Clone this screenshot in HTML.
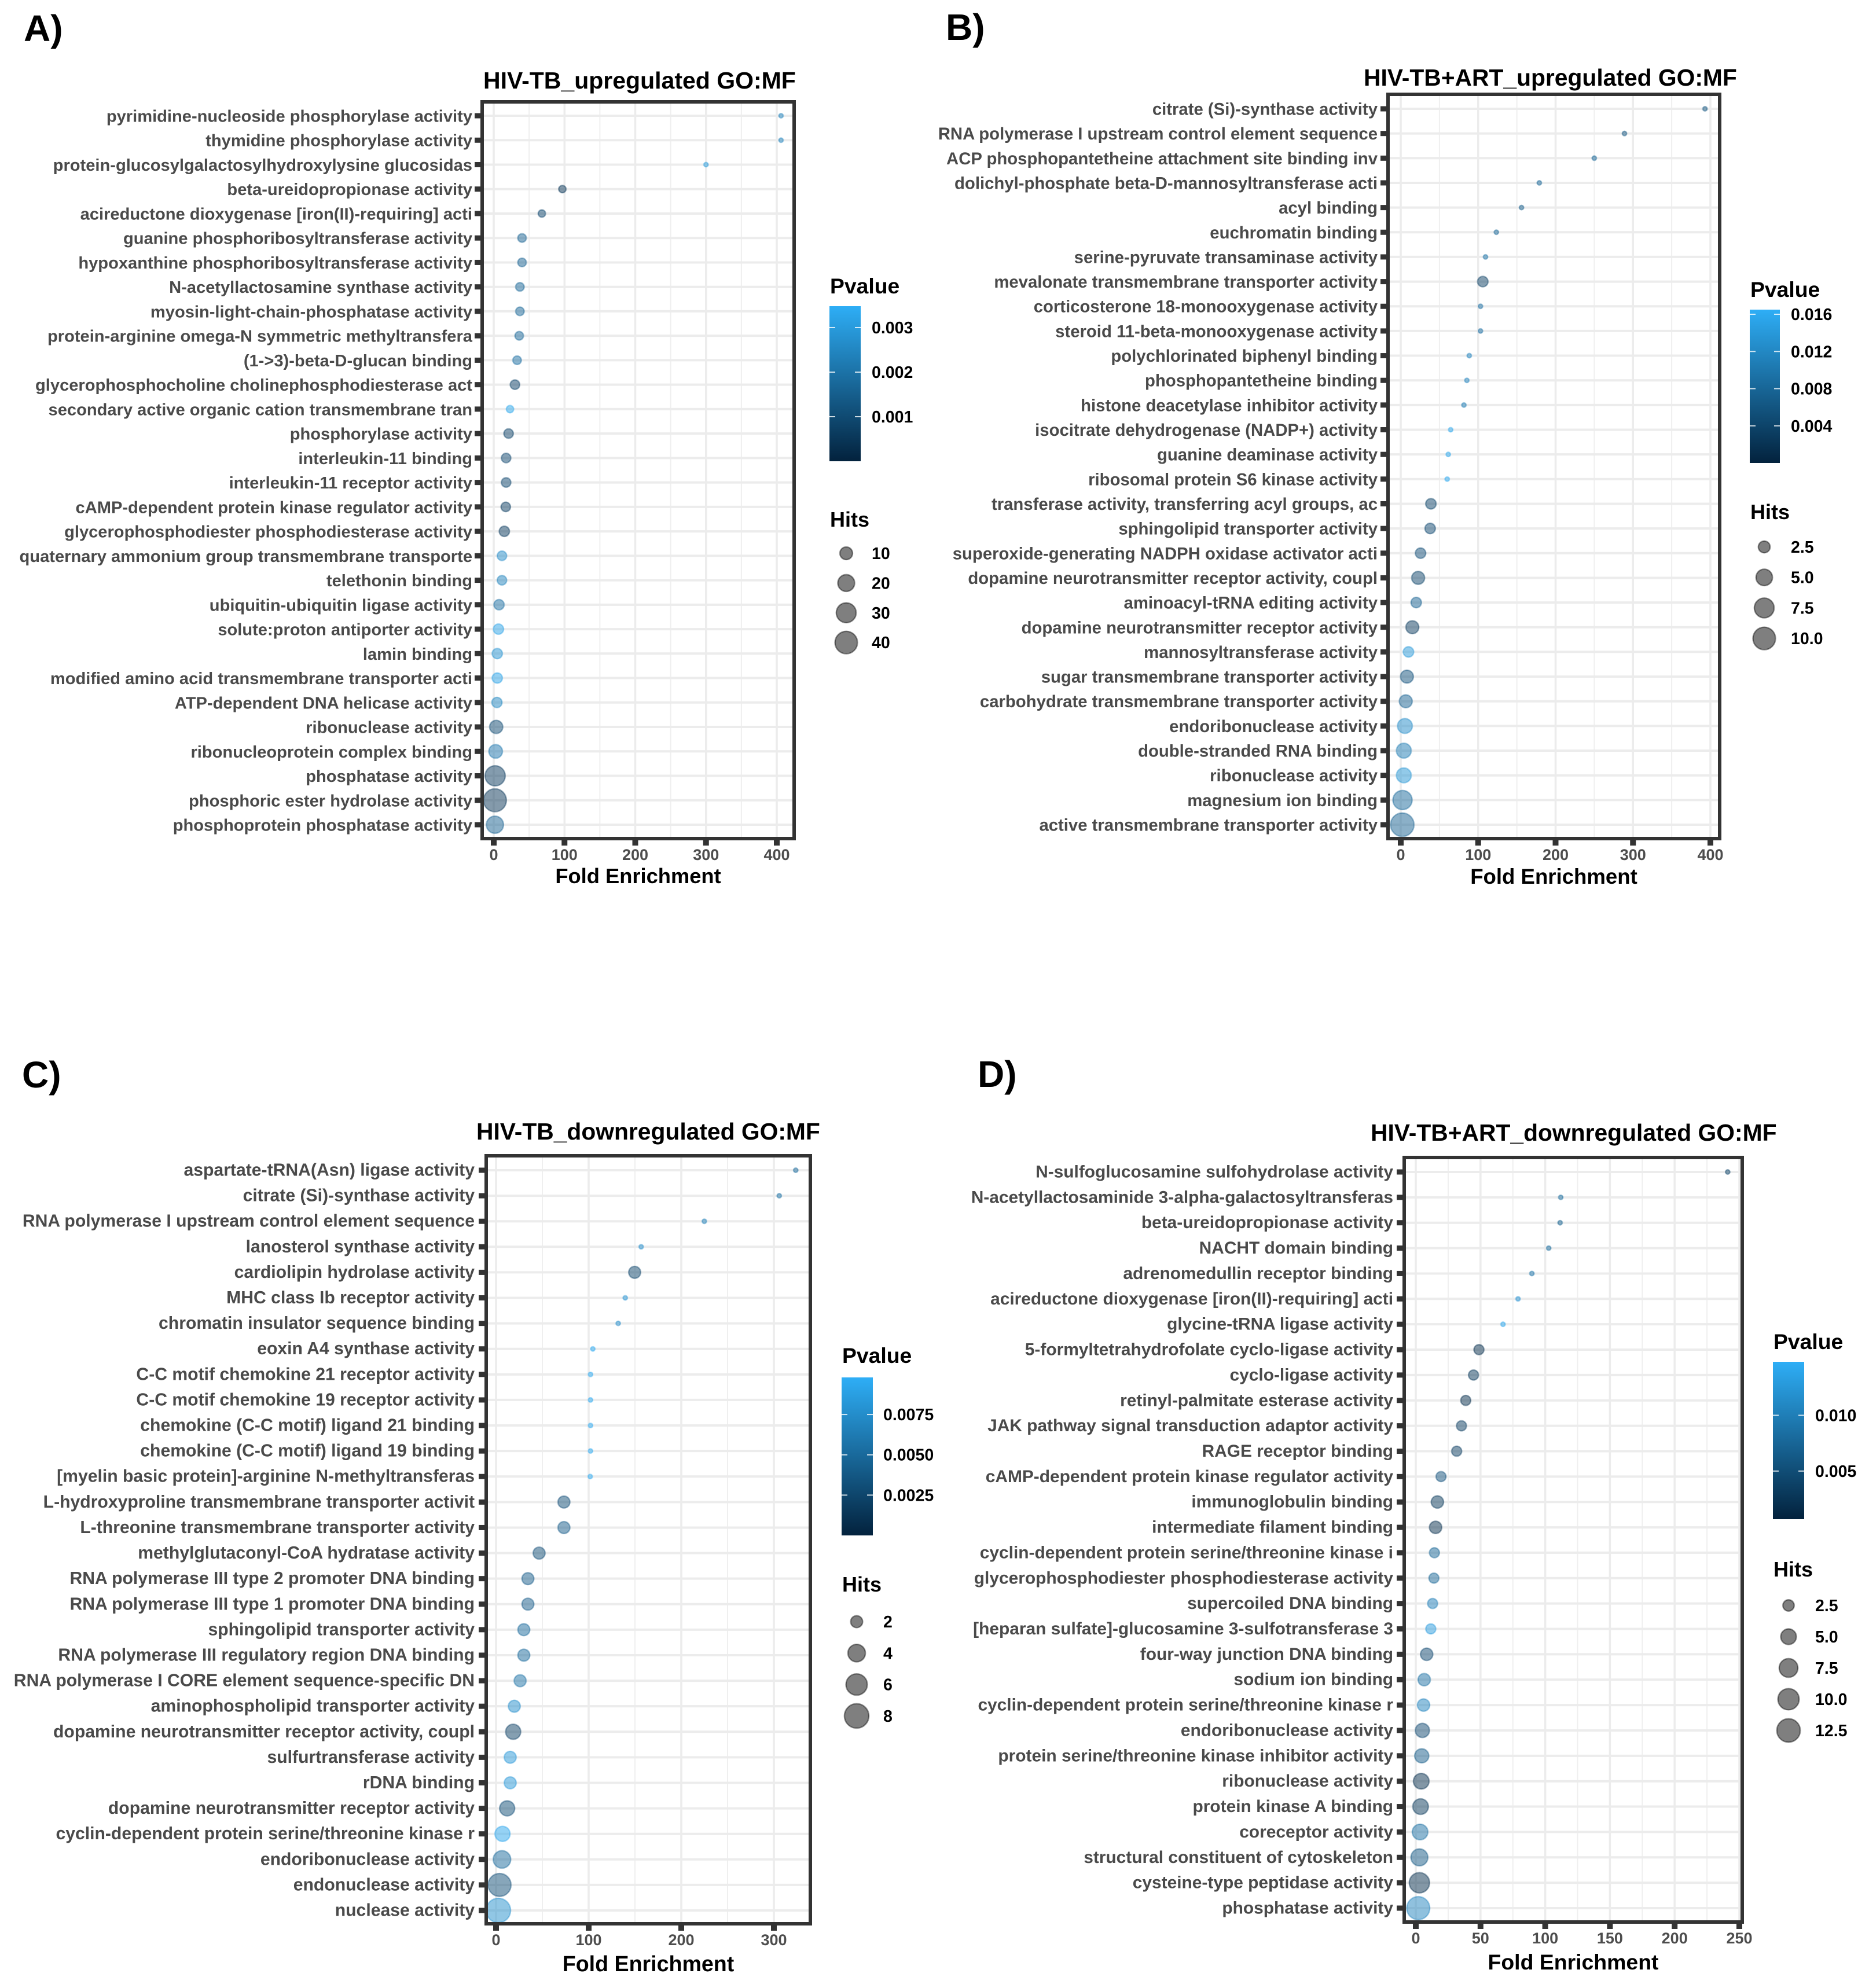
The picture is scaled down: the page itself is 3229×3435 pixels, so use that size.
<!DOCTYPE html>
<html lang="en">
<head>
<meta charset="utf-8">
<title>GO:MF enrichment dot plots</title>
<style>
html,body{margin:0;padding:0;background:#fff;}
svg{display:block;font-family:"Liberation Sans",Arial,sans-serif;font-weight:bold;}
</style>
</head>
<body>
<svg id="figure" xmlns="http://www.w3.org/2000/svg" width="3229" height="3435" viewBox="0 0 3229 3435">
<rect x="0" y="0" width="3229" height="3435" fill="#ffffff"/>
</svg>
<script>
/* ---------- Panel A data ---------- */
const termsA = ["pyrimidine-nucleoside phosphorylase activity","thymidine phosphorylase activity","protein-glucosylgalactosylhydroxylysine glucosidas","beta-ureidopropionase activity","acireductone dioxygenase [iron(II)-requiring] acti","guanine phosphoribosyltransferase activity","hypoxanthine phosphoribosyltransferase activity","N-acetyllactosamine synthase activity","myosin-light-chain-phosphatase activity","protein-arginine omega-N symmetric methyltransfera","(1->3)-beta-D-glucan binding","glycerophosphocholine cholinephosphodiesterase act","secondary active organic cation transmembrane tran","phosphorylase activity","interleukin-11 binding","interleukin-11 receptor activity","cAMP-dependent protein kinase regulator activity","glycerophosphodiester phosphodiesterase activity","quaternary ammonium group transmembrane transporte","telethonin binding","ubiquitin-ubiquitin ligase activity","solute:proton antiporter activity","lamin binding","modified amino acid transmembrane transporter acti","ATP-dependent DNA helicase activity","ribonuclease activity","ribonucleoprotein complex binding","phosphatase activity","phosphoric ester hydrolase activity","phosphoprotein phosphatase activity"];
const foldA = [406,406,300,97,68,40,40,37,37,36,33,30,23,21,17.5,17.5,17,15,11.6,11.6,7.5,6.7,5,5,4.5,3.5,2.7,2,1.7,1.7];
const hitsA = [2,2,2,3,3,4,4,4,4,4,4,5,3,5,5,5,5,6,5,5,6,6,6,6,6,11,12,31,42,21];
const pvalA = [.0024,.0024,.0030,.0005,.0009,.0016,.0016,.0017,.0017,.0017,.0019,.0008,.0033,.0008,.0009,.0009,.0007,.0006,.0026,.0024,.0019,.0032,.0028,.0032,.0025,.0010,.0021,.0006,.0005,.0016];
const xTicksA = [0,100,200,300,400];
const pTicksA = [0.003,0.002,0.001];
const pLabelsA = ["0.003","0.002","0.001"];
const hitLegendA = [10,20,30,40];
const hitLabelsA = ["10","20","30","40"];

/* ---------- Panel B data ---------- */
const termsB = ["citrate (Si)-synthase activity","RNA polymerase I upstream control element sequence","ACP phosphopantetheine attachment site binding inv","dolichyl-phosphate beta-D-mannosyltransferase acti","acyl binding","euchromatin binding","serine-pyruvate transaminase activity","mevalonate transmembrane transporter activity","corticosterone 18-monooxygenase activity","steroid 11-beta-monooxygenase activity","polychlorinated biphenyl binding","phosphopantetheine binding","histone deacetylase inhibitor activity","isocitrate dehydrogenase (NADP+) activity","guanine deaminase activity","ribosomal protein S6 kinase activity","transferase activity, transferring acyl groups, ac","sphingolipid transporter activity","superoxide-generating NADPH oxidase activator acti","dopamine neurotransmitter receptor activity, coupl","aminoacyl-tRNA editing activity","dopamine neurotransmitter receptor activity","mannosyltransferase activity","sugar transmembrane transporter activity","carbohydrate transmembrane transporter activity","endoribonuclease activity","double-stranded RNA binding","ribonuclease activity","magnesium ion binding","active transmembrane transporter activity"];
const foldB = [393,289,250,179,156,123.5,109.5,106,103,103,88.5,85.4,81.6,64.5,61.4,60,39,38,25.6,22.5,20,15,10,8,6.5,5.4,4,4,2.3,2];
const hitsB = [1,1,1,1,1,1,1,2,1,1,1,1,1,1,1,1,2,2,2,3,2,3,2,3,3,4,4,4,7,11];
const pvalB = [.006,.006,.008,.008,.007,.008,.0095,.0035,.009,.009,.0115,.0115,.0105,.0155,.0155,.016,.004,.0045,.005,.004,.0075,.003,.014,.0055,.0075,.0125,.0105,.0135,.0085,.0075];
const xTicksB = [0,100,200,300,400];
const pTicksB = [0.016,0.012,0.008,0.004];
const pLabelsB = ["0.016","0.012","0.008","0.004"];
const hitLegendB = [2.5,5,7.5,10];
const hitLabelsB = ["2.5","5.0","7.5","10.0"];

/* ---------- Panel C data ---------- */
const termsC = ["aspartate-tRNA(Asn) ligase activity","citrate (Si)-synthase activity","RNA polymerase I upstream control element sequence","lanosterol synthase activity","cardiolipin hydrolase activity","MHC class Ib receptor activity","chromatin insulator sequence binding","eoxin A4 synthase activity","C-C motif chemokine 21 receptor activity","C-C motif chemokine 19 receptor activity","chemokine (C-C motif) ligand 21 binding","chemokine (C-C motif) ligand 19 binding","[myelin basic protein]-arginine N-methyltransferas","L-hydroxyproline transmembrane transporter activit","L-threonine transmembrane transporter activity","methylglutaconyl-CoA hydratase activity","RNA polymerase III type 2 promoter DNA binding","RNA polymerase III type 1 promoter DNA binding","sphingolipid transporter activity","RNA polymerase III regulatory region DNA binding","RNA polymerase I CORE element sequence-specific DN","aminophospholipid transporter activity","dopamine neurotransmitter receptor activity, coupl","sulfurtransferase activity","rDNA binding","dopamine neurotransmitter receptor activity","cyclin-dependent protein serine/threonine kinase r","endoribonuclease activity","endonuclease activity","nuclease activity"];
const foldC = [323.6,305.8,224.9,156.7,149.7,139.5,131.9,104.5,102,102,102,102,101.7,73.3,73.3,46.5,34.4,34.4,30,30,26,19.7,18.5,15.3,15.3,12,7,6.4,3.8,2.5];
const hitsC = [1,1,1,1,2,1,1,1,1,1,1,1,1,2,2,2,2,2,2,2,2,2,3,2,2,3,3,4,7,8];
const pvalC = [.005,.0055,.0065,.0075,.0025,.008,.0075,.0095,.0095,.0095,.0095,.0095,.0095,.003,.004,.003,.004,.004,.005,.005,.0055,.0075,.002,.0082,.0082,.003,.0092,.005,.003,.0076];
const xTicksC = [0,100,200,300];
const pTicksC = [0.0075,0.005,0.0025];
const pLabelsC = ["0.0075","0.0050","0.0025"];
const hitLegendC = [2,4,6,8];
const hitLabelsC = ["2","4","6","8"];

/* ---------- Panel D data ---------- */
const termsD = ["N-sulfoglucosamine sulfohydrolase activity","N-acetyllactosaminide 3-alpha-galactosyltransferas","beta-ureidopropionase activity","NACHT domain binding","adrenomedullin receptor binding","acireductone dioxygenase [iron(II)-requiring] acti","glycine-tRNA ligase activity","5-formyltetrahydrofolate cyclo-ligase activity","cyclo-ligase activity","retinyl-palmitate esterase activity","JAK pathway signal transduction adaptor activity","RAGE receptor binding","cAMP-dependent protein kinase regulator activity","immunoglobulin binding","intermediate filament binding","cyclin-dependent protein serine/threonine kinase i","glycerophosphodiester phosphodiesterase activity","supercoiled DNA binding","[heparan sulfate]-glucosamine 3-sulfotransferase 3","four-way junction DNA binding","sodium ion binding","cyclin-dependent protein serine/threonine kinase r","endoribonuclease activity","protein serine/threonine kinase inhibitor activity","ribonuclease activity","protein kinase A binding","coreceptor activity","structural constituent of cytoskeleton","cysteine-type peptidase activity","phosphatase activity"];
const foldD = [241,112,111.5,102.7,89.7,79,67.4,48.8,44.6,38.6,35.3,31.6,19.5,16.7,15.3,14.4,14,13,11.6,8.4,6.5,6,5.1,4.6,4.2,3.7,3.3,2.8,2.8,1.9];
const hitsD = [1,1,1,1,1,1,1,2,2,2,2,2,2,3,3,2,2,2,2,3,3,3,4,4,5,5,5,6,9,12];
const pvalD = [.004,.008,.007,.008,.009,.012,.014,.002,.003,.002,.0035,.0035,.0055,.003,.002,.0075,.0075,.010,.013,.0045,.0085,.0105,.0045,.0065,.002,.003,.0085,.006,.002,.0105];
const xTicksD = [0,50,100,150,200,250];
const pTicksD = [0.010,0.005];
const pLabelsD = ["0.010","0.005"];
const hitLegendD = [2.5,5,7.5,10,12.5];
const hitLabelsD = ["2.5","5.0","7.5","10.0","12.5"];

/* ---------- Colour ramp ---------- */
const lowColor = [3,34,61];
const highColor = [46,174,246];

const NS = "http://www.w3.org/2000/svg";
const fig = document.getElementById("figure");

function make(tag, attrs, parent, text) {
  const el = document.createElementNS(NS, tag);
  for (const k in attrs) el.setAttribute(k, attrs[k]);
  if (text !== undefined) el.textContent = text;
  (parent || fig).appendChild(el);
  return el;
}
function ramp(t) {
  t = Math.max(0, Math.min(1, t));
  const c = lowColor.map((v, i) => Math.round(v + (highColor[i] - v) * t));
  return "rgb(" + c.join(",") + ")";
}

function drawPanel(id, title, data, L) {
  const xPos = v => L.x0 + v * L.k;
  const rowY = i => L.rowFirst + i * (L.rowLast - L.rowFirst) / (data.terms.length - 1);
  const colorT = p => (p - L.pMin) / (L.pMax - L.pMin);
  const diam = h => L.dMin + (L.dMax - L.dMin) * Math.sqrt(Math.max(0, (h - L.hMin) / (L.hMax - L.hMin)));
  const barY = p => L.barBottom - (p - L.pMin) / (L.pMax - L.pMin) * (L.barBottom - L.barTop);

  const g = make("g", {});
  
  

  const tag = make("text", {x: L.tagX, y: L.tagY, "font-size": 64, fill: "#000"}, g, id + ")");
  
  

  const ttl = make("text", {x: L.titleX, y: L.titleY, "font-size": L.titleFont, fill: "#000"}, g, title);
  
  

  /* grid */
  const step = data.xTicks[1] - data.xTicks[0];
  const maxT = data.xTicks[data.xTicks.length - 1];
  const inner = {l: L.left + 3, r: L.right - 3, t: L.top + 3, b: L.bottom - 3};
  for (let v = step / 2; v <= maxT + step / 2 + 1e-6; v += step) {
    const px = xPos(v);
    if (px >= L.right - 2) continue;
    const m = make("line", {x1: px, x2: px, y1: inner.t, y2: inner.b, stroke: "#efefef", "stroke-width": 2}, g);
    
    
  }
  data.xTicks.forEach(v => {
    const px = xPos(v);
    const m = make("line", {x1: px, x2: px, y1: inner.t, y2: inner.b, stroke: "#ececec", "stroke-width": 3.5}, g);
    
    
  });
  data.terms.forEach((t, i) => {
    const m = make("line", {x1: inner.l, x2: inner.r, y1: rowY(i), y2: rowY(i), stroke: "#ececec", "stroke-width": 4}, g);
    
    
  });

  /* points */
  data.terms.forEach((t, i) => {
    const d = diam(data.hits[i]);
    const c = ramp(colorT(data.pval[i]));
    const pt = make("circle", {cx: xPos(data.fold[i]), cy: rowY(i), r: d / 2 - 1.2, fill: c, "fill-opacity": 0.5, stroke: c, "stroke-opacity": 0.42, "stroke-width": 2.4}, g);
    
    
  });

  /* border */
  const box = make("rect", {x: L.left, y: L.top, width: L.right - L.left, height: L.bottom - L.top, fill: "none", stroke: "#333333", "stroke-width": 6}, g);
  
  

  /* y axis */
  data.terms.forEach((t, i) => {
    const tk = make("rect", {x: L.left - 13, y: rowY(i) - 4.5, width: 10.5, height: 9, fill: "#333333"}, g);
    
    
    const lb = make("text", {x: L.labelRight, y: rowY(i) + L.labelDy, "text-anchor": "end", "font-size": L.labelFont, fill: "#4a4a4a"}, g, t);
    
    
  });

  /* x axis */
  data.xTicks.forEach(v => {
    const px = xPos(v);
    const tk = make("rect", {x: px - 5, y: L.bottom + 2.5, width: 10, height: 9.5, fill: "#333333"}, g);
    
    
    const lb = make("text", {x: px, y: L.bottom + 37, "text-anchor": "middle", "font-size": 27, fill: "#4d4d4d"}, g, String(v));
    
    
  });
  const xt = make("text", {x: (L.left + L.right) / 2, y: L.bottom + L.foldDy, "text-anchor": "middle", "font-size": L.foldFont, fill: "#000"}, g, "Fold Enrichment");
  
  

  /* colour legend */
  const pTitle = make("text", {x: L.barX + 1, y: L.pTitleY, "font-size": 37.3, fill: "#000"}, g, "Pvalue");
  
  
  const grad = make("linearGradient", {id: "grad" + id, x1: 0, x2: 0, y1: 0, y2: 1}, g);
  make("stop", {offset: "0%", "stop-color": ramp(1)}, grad);
  make("stop", {offset: "100%", "stop-color": ramp(0)}, grad);
  const bar = make("rect", {x: L.barX, y: L.barTop, width: L.barW, height: L.barBottom - L.barTop, fill: "url(#grad" + id + ")"}, g);
  
  
  data.pTicks.forEach((p, i) => {
    const y = barY(p);
    [L.barX, L.barX + L.barW - 10].forEach(x0 => {
      const tk = make("rect", {x: x0, y: y - 1, width: 10, height: 2, fill: "#ffffff", "fill-opacity": 0.8}, g);
      
      
    });
    const lb = make("text", {x: L.legendLabelX, y: y + 10, "font-size": 28.5, fill: "#000"}, g, data.pLabels[i]);
    
    
  });

  /* size legend */
  const hTitle = make("text", {x: L.barX + 1, y: L.hTitleY, "font-size": 36, fill: "#000"}, g, "Hits");
  
  
  data.hitLegend.forEach((h, i) => {
    const y = L.hitFirstY + i * L.hitStep;
    const d = diam(h);
    const sw = make("circle", {cx: L.hitX, cy: y, r: d / 2 - 1.2, fill: "#000", "fill-opacity": 0.5, stroke: "#000", "stroke-opacity": 0.42, "stroke-width": 2.4}, g);
    
    
    const lb = make("text", {x: L.legendLabelX, y: y + 10, "font-size": 28.5, fill: "#000"}, g, data.hitLabels[i]);
    
    
  });
}

drawPanel("A", "HIV-TB_upregulated GO:MF",
  {terms: termsA, fold: foldA, hits: hitsA, pval: pvalA, xTicks: xTicksA, pTicks: pTicksA, pLabels: pLabelsA, hitLegend: hitLegendA, hitLabels: hitLabelsA},
  {left: 833, right: 1372, top: 176, bottom: 1449, x0: 853, k: 1.2225, rowFirst: 200, rowLast: 1425,
   labelFont: 29.1, labelRight: 816, labelDy: 10.5, titleFont: 41, foldFont: 36.3, foldDy: 77,
   tagX: 41, tagY: 71, titleX: 835, titleY: 153,
   pMin: 0, pMax: 0.00348, hMin: 2, hMax: 42, dMin: 10, dMax: 42,
   barX: 1433, barW: 54, barTop: 529, barBottom: 797, pTitleY: 507,
   legendLabelX: 1506, hTitleY: 910, hitX: 1462, hitFirstY: 956, hitStep: 51.4});

drawPanel("B", "HIV-TB+ART_upregulated GO:MF",
  {terms: termsB, fold: foldB, hits: hitsB, pval: pvalB, xTicks: xTicksB, pTicks: pTicksB, pLabels: pLabelsB, hitLegend: hitLegendB, hitLabels: hitLabelsB},
  {left: 2398, right: 2971, top: 163, bottom: 1449, x0: 2420, k: 1.3375, rowFirst: 188, rowLast: 1425,
   labelFont: 29.3, labelRight: 2380, labelDy: 10.5, titleFont: 40.8, foldFont: 36.6, foldDy: 78,
   tagX: 1634, tagY: 69, titleX: 2356, titleY: 148,
   pMin: 0, pMax: 0.0165, hMin: 1, hMax: 11, dMin: 10, dMax: 43,
   barX: 3023, barW: 52, barTop: 535, barBottom: 800, pTitleY: 513,
   legendLabelX: 3094, hTitleY: 897, hitX: 3048, hitFirstY: 945, hitStep: 52.7});

drawPanel("C", "HIV-TB_downregulated GO:MF",
  {terms: termsC, fold: foldC, hits: hitsC, pval: pvalC, xTicks: xTicksC, pTicks: pTicksC, pLabels: pLabelsC, hitLegend: hitLegendC, hitLabels: hitLabelsC},
  {left: 840, right: 1400, top: 1997, bottom: 3324, x0: 857, k: 1.6, rowFirst: 2022, rowLast: 3301,
   labelFont: 30.15, labelRight: 820, labelDy: 9.5, titleFont: 40.8, foldFont: 37.6, foldDy: 82,
   tagX: 38, tagY: 1879, titleX: 823, titleY: 1969,
   pMin: 0, pMax: 0.0098, hMin: 1, hMax: 9, dMin: 10, dMax: 47,
   barX: 1454, barW: 54, barTop: 2380, barBottom: 2653, pTitleY: 2355,
   legendLabelX: 1526, hTitleY: 2750, hitX: 1480, hitFirstY: 2802, hitStep: 54.3});

drawPanel("D", "HIV-TB+ART_downregulated GO:MF",
  {terms: termsD, fold: foldD, hits: hitsD, pval: pvalD, xTicks: xTicksD, pTicks: pTicksD, pLabels: pLabelsD, hitLegend: hitLegendD, hitLabels: hitLabelsD},
  {left: 2426, right: 3010, top: 2000, bottom: 3321, x0: 2446, k: 2.236, rowFirst: 2025, rowLast: 3297,
   labelFont: 29.9, labelRight: 2407, labelDy: 9.5, titleFont: 40.8, foldFont: 37.4, foldDy: 82,
   tagX: 1689, tagY: 1878, titleX: 2368, titleY: 1971,
   pMin: 0.00068, pMax: 0.0148, hMin: 1, hMax: 14, dMin: 10, dMax: 45,
   barX: 3063, barW: 54, barTop: 2353, barBottom: 2625, pTitleY: 2331,
   legendLabelX: 3136, hTitleY: 2724, hitX: 3090, hitFirstY: 2774, hitStep: 54});
</script>
</body>
</html>
